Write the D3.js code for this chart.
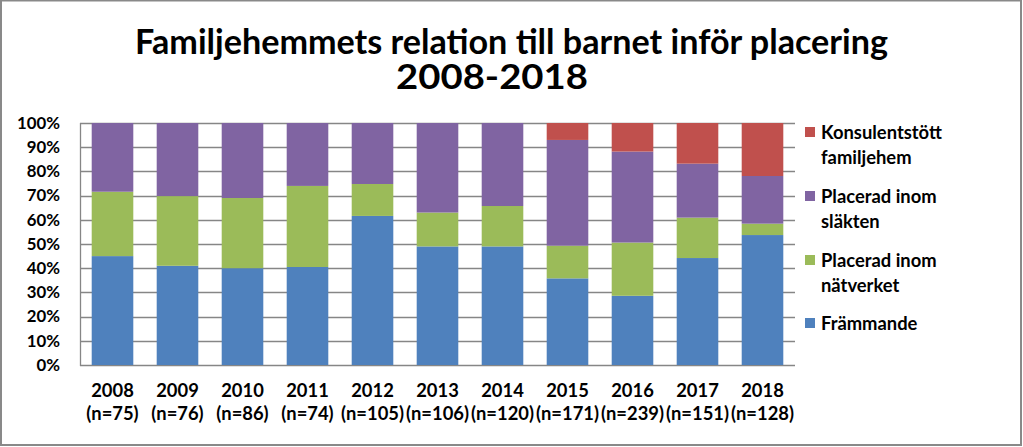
<!DOCTYPE html>
<html><head><meta charset="utf-8">
<script src="https://cdn.jsdelivr.net/npm/d3@7"></script>
<style>body{margin:0;background:#fff}svg{display:block}text{font-family:Lato,"Open Sans",sans-serif;font-weight:bold;fill:#000}</style>
</head><body>
<script>
const years = ["2008","2009","2010","2011","2012","2013","2014","2015","2016","2017","2018"];
const nLabels = ["(n=75)","(n=76)","(n=86)","(n=74)","(n=105)","(n=106)","(n=120)","(n=171)","(n=239)","(n=151)","(n=128)"];
const frammande = [45, 41, 40, 40.5, 61.6, 49, 49, 35.8, 28.6, 44.2, 53.7];
const natverket = [26.6, 28.8, 29, 33.5, 13.2, 14, 16.7, 13.5, 22, 16.7, 4.7];
const slakten   = [28.4, 30.2, 31, 26, 25.2, 37, 34.3, 43.7, 37.6, 22.3, 19.7];
const konsulent = [0, 0, 0, 0, 0, 0, 0, 7, 11.8, 16.8, 21.9];
const seriesNames = ["Främmande","Placerad inom nätverket","Placerad inom släkten","Konsulentstött familjehem"];
const legendLines = [["Konsulentstött","familjehem"],["Placerad inom","släkten"],["Placerad inom","nätverket"],["Främmande"]];
const colors = ["#4F81BD","#9BBB59","#8064A2","#C0504D"];
const yTicks = [0,10,20,30,40,50,60,70,80,90,100];
const titleLines = ["Familjehemmets relation till barnet inför placering","2008-2018"];

const W=1023,H=447;
const svg=d3.select("body").append("svg").attr("width",W).attr("height",H);
svg.append("rect").attr("x",1).attr("y",0.5).attr("width",W-3).attr("height",H-2.5)
  .attr("fill","#fff").attr("stroke","#898989").attr("stroke-width",2);

const x=d3.scaleBand().domain(years).range([80,795]).paddingInner(0.36).paddingOuter(0.18);
const y=d3.scaleLinear().domain([0,100]).range([365,123]);

function fit(sel, target){
  const base=20; sel.style("font-size",base+"px");
  const w=sel.node().getComputedTextLength();
  return base*target/w;
}

// gridlines
svg.append("g").selectAll("line").data(yTicks).join("line")
  .attr("x1",80).attr("x2",795).attr("y1",d=>Math.round(y(d))+0.5).attr("y2",d=>Math.round(y(d))+0.5)
  .attr("stroke","#868686").attr("stroke-width",1.3);
svg.append("line").attr("x1",80.5).attr("x2",80.5).attr("y1",y(100)).attr("y2",y(0)+1).attr("stroke","#868686").attr("stroke-width",1.3);

// stacked bars
const rows=years.map((yr,i)=>({year:yr,s0:frammande[i],s1:natverket[i],s2:slakten[i],s3:konsulent[i]}));
const stack=d3.stack().keys(["s0","s1","s2","s3"])(rows);
svg.append("g").selectAll("g").data(stack).join("g").attr("fill",(d,i)=>colors[i])
  .selectAll("rect").data(d=>d).join("rect")
  .attr("x",d=>x(d.data.year)).attr("width",x.bandwidth())
  .attr("y",d=>y(d[1])).attr("height",d=>y(d[0])-y(d[1]));

// y tick labels
const tmp=svg.append("text").text("100%");
const ySize=fit(tmp,43); tmp.remove();
svg.append("g").selectAll("text").data(yTicks).join("text")
  .attr("x",60).attr("y",d=>y(d)).attr("dy","0.35em").attr("text-anchor","end")
  .style("font-size",ySize+"px").text(d=>d+"%");

// x labels
const tmp2=svg.append("text").text("(n=105)");
const xSize=fit(tmp2,63); tmp2.remove();
const xl=svg.append("g");
xl.selectAll("text.yr").data(years).join("text").attr("class","yr")
  .attr("x",d=>x(d)+x.bandwidth()/2).attr("y",397).attr("text-anchor","middle")
  .style("font-size",xSize+"px").text(d=>d);
xl.selectAll("text.n").data(nLabels).join("text").attr("class","n")
  .attr("x",(d,i)=>x(years[i])+x.bandwidth()/2).attr("y",420).attr("text-anchor","middle")
  .style("font-size",xSize+"px").text(d=>d);

// title
const tSize=34;
svg.append("text").text(titleLines[0]).attr("x",135).attr("y",54)
  .attr("textLength",753).attr("lengthAdjust","spacingAndGlyphs").style("font-size",tSize+"px");
svg.append("text").text(titleLines[1]).attr("x",396).attr("y",89)
  .attr("textLength",192).attr("lengthAdjust","spacingAndGlyphs").style("font-size",tSize+"px");

// legend
const tmp3=svg.append("text").text("Konsulentstött");
const lSize=fit(tmp3,121); tmp3.remove();
const legendTop=[132,196,260,323];
const lg=svg.append("g");
legendLines.forEach((lines,k)=>{
  const ci=3-k;
  lg.append("rect").attr("x",805).attr("y",legendTop[k]-5).attr("width",10).attr("height",10).attr("fill",colors[ci]);
  lines.forEach((ln,j)=>{
    lg.append("text").attr("x",821).attr("y",legendTop[k]+j*25).attr("dy","0.36em")
      .style("font-size",lSize+"px").text(ln);
  });
});
</script>
</body></html>
